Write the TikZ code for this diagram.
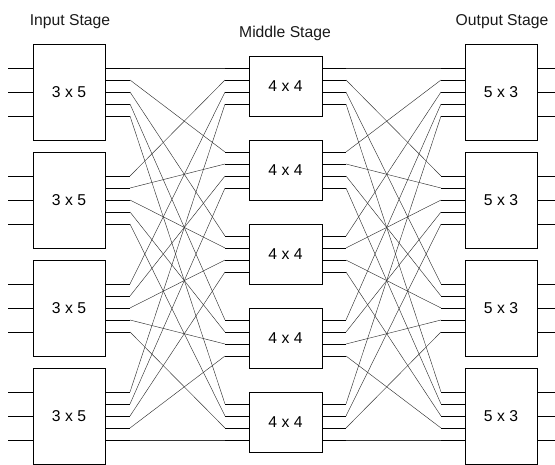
\documentclass[tikz,border=0pt]{standalone}
\usepackage{fontspec}
\setmainfont{Liberation Sans}
\usetikzlibrary{calc}
\tikzset{
  swbox/.style={draw, rectangle, line width=1pt, inner sep=0pt, minimum width=72pt, font=\fontsize{15.7}{18}\selectfont},
  stub/.style={line width=1pt},
  link/.style={line width=0.45pt, black!80},
  stagelbl/.style={anchor=base, inner sep=0pt, font=\fontsize{15.7}{18}\selectfont, black!90},
}
\begin{document}
\begin{tikzpicture}[x=1pt, y=-1pt]
\useasboundingbox (0,0) rectangle (555,464);

% Stage titles
\node[stagelbl] (lblin) at (70,25) {Input Stage};
\node[stagelbl] (lblmid) at (285,37) {Middle Stage};
\node[stagelbl] (lblout) at (502,25) {Output Stage};

% Input and output switches
\foreach \i in {1,...,4} {
  \pgfmathsetmacro\cy{92+108*(\i-1)}
  \node[swbox, minimum height=96pt] (in\i) at (69,\cy) {3 x 5};
  \node[swbox, minimum height=96pt] (out\i) at (501,\cy) {5 x 3};
  \foreach \k in {1,2,3} {
    \coordinate (in\i-a\k) at (8,{\cy-24+24*(\k-1)});
    \coordinate (out\i-b\k) at (555,{\cy-24+24*(\k-1)});
    \draw[stub] (in\i-a\k) -- (in\i.west |- in\i-a\k);
    \draw[stub] (out\i.east |- out\i-b\k) -- (out\i-b\k);
  }
  \foreach \j in {1,...,5} {
    \coordinate (in\i-p\j) at (130,{\cy-24+12*(\j-1)});
    \coordinate (out\i-s\j) at (441,{\cy-24+12*(\j-1)});
    \draw[stub] (in\i.east |- in\i-p\j) -- (in\i-p\j);
    \draw[stub] (out\i-s\j) -- (out\i.west |- out\i-s\j);
  }
}

% Middle switches
\foreach \j in {1,...,5} {
  \pgfmathsetmacro\cy{86+84*(\j-1)}
  \node[swbox, minimum width=73pt, minimum height=60pt] (mid\j) at (285.5,\cy) {4 x 4};
  \foreach \k in {1,...,4} {
    \coordinate (mid\j-q\k) at (225,{\cy-18+12*(\k-1)});
    \coordinate (mid\j-r\k) at (346,{\cy-18+12*(\k-1)});
    \draw[stub] (mid\j-q\k) -- (mid\j.west |- mid\j-q\k);
    \draw[stub] (mid\j.east |- mid\j-r\k) -- (mid\j-r\k);
  }
}

% Interstage links
\foreach \i in {1,...,4} {
  \foreach \j in {1,...,5} {
    \draw[link] (in\i-p\j) -- (mid\j-q\i);
    \draw[link] (mid\j-r\i) -- (out\i-s\j);
  }
}

\end{tikzpicture}
\end{document}
